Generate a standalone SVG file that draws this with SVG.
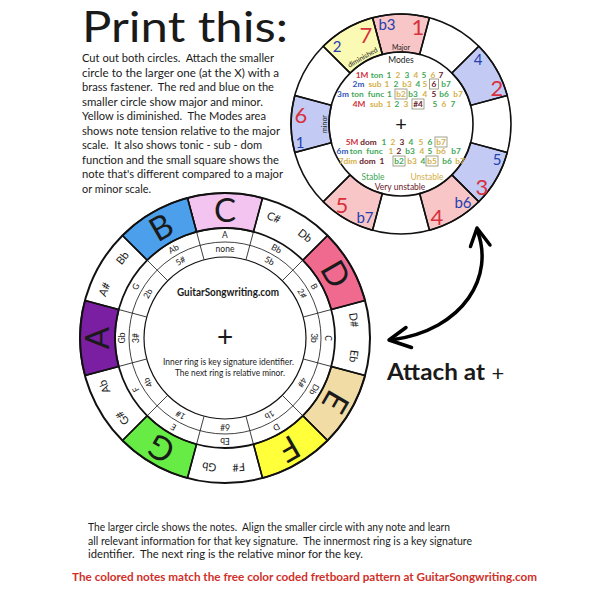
<svg xmlns="http://www.w3.org/2000/svg" width="600" height="600" viewBox="0 0 600 600">
<style>
text { font-family: Lato, "Open Sans", "Liberation Sans", sans-serif; fill: #1a1a1a; white-space: pre; }
.para { font-size: 11px; }
.seg { stroke: #111; stroke-width: 1.5; }
.ring { fill: none; stroke: #111; }
.sepo { stroke: #111; stroke-width: 1.5; }
.sepi { stroke: #222; stroke-width: 0.8; }
.big { font-size: 33px; text-anchor: middle; }
.sm { font-size: 11px; text-anchor: middle; }
.in { font-size: 8.5px; text-anchor: middle; }
.md { font-size: 8.3px; font-weight: bold; text-anchor: middle; }
.g { fill: #3fa85a; } .y { fill: #d4b04a; } .m { fill: #6a1b2b; } .r { fill: #d03040; } .b { fill: #2f55b5; }
.box { fill: none; stroke: #8c8c70; stroke-width: 0.8; }
.rn { font-size: 22px; fill: #d8303c; text-anchor: middle; }
.bn { font-size: 15px; fill: #2340b0; text-anchor: middle; }
.tiny { font-size: 7px; text-anchor: middle; }
</style>
<rect width="600" height="600" fill="#fff"/>

<g id="title">
<text x="82" y="42" font-size="42" textLength="206" lengthAdjust="spacingAndGlyphs">Print this:</text>
</g>

<g id="instructions" class="para">
<text x="82" y="62" textLength="192" lengthAdjust="spacingAndGlyphs">Cut out both circles.  Attach the smaller</text>
<text x="82" y="76.5" textLength="197" lengthAdjust="spacingAndGlyphs">circle to the larger one (at the X) with a</text>
<text x="82" y="91" textLength="192" lengthAdjust="spacingAndGlyphs">brass fastener.  The red and blue on the</text>
<text x="82" y="105.5" textLength="181" lengthAdjust="spacingAndGlyphs">smaller circle show major and minor.</text>
<text x="82" y="120" textLength="184" lengthAdjust="spacingAndGlyphs">Yellow is diminished.  The Modes area</text>
<text x="82" y="134.5" textLength="198" lengthAdjust="spacingAndGlyphs">shows note tension relative to the major</text>
<text x="82" y="149" textLength="180" lengthAdjust="spacingAndGlyphs">scale.  It also shows tonic - sub - dom</text>
<text x="82" y="163.5" textLength="197" lengthAdjust="spacingAndGlyphs">function and the small square shows the</text>
<text x="82" y="178" textLength="201" lengthAdjust="spacingAndGlyphs">note that's different compared to a major</text>
<text x="82" y="192.5" textLength="69" lengthAdjust="spacingAndGlyphs">or minor scale.</text>
</g>

<g id="mode-wheel">
<path class="seg" fill="#f8c6c6" d="M372.530,17.748 A110,110 0 0 1 429.470,17.748 L419.635,54.453 A72,72 0 0 0 382.365,54.453 Z"/>
<path class="seg" fill="#c3cbf4" d="M478.782,46.218 A110,110 0 0 1 507.252,95.530 L470.547,105.365 A72,72 0 0 0 451.912,73.088 Z"/>
<path class="seg" fill="#c3cbf4" d="M507.252,152.470 A110,110 0 0 1 478.782,201.782 L451.912,174.912 A72,72 0 0 0 470.547,142.635 Z"/>
<path class="seg" fill="#f8c6c6" d="M478.782,201.782 A110,110 0 0 1 429.470,230.252 L419.635,193.547 A72,72 0 0 0 451.912,174.912 Z"/>
<path class="seg" fill="#f8c6c6" d="M372.530,230.252 A110,110 0 0 1 323.218,201.782 L350.088,174.912 A72,72 0 0 0 382.365,193.547 Z"/>
<path class="seg" fill="#c3cbf4" d="M294.748,152.470 A110,110 0 0 1 294.748,95.530 L331.453,105.365 A72,72 0 0 0 331.453,142.635 Z"/>
<path class="seg" fill="#fafab4" d="M323.218,46.218 A110,110 0 0 1 372.530,17.748 L382.365,54.453 A72,72 0 0 0 350.088,73.088 Z"/>
<circle class="ring" cx="401" cy="124" r="110" stroke-width="1.6"/>
<circle class="ring" cx="401" cy="124" r="72" stroke-width="1.6"/>
<g class="sepo">
<line x1="401" y1="14" x2="401" y2="52" transform="rotate(15 401 124)"/>
<line x1="401" y1="14" x2="401" y2="52" transform="rotate(45 401 124)"/>
<line x1="401" y1="14" x2="401" y2="52" transform="rotate(75 401 124)"/>
<line x1="401" y1="14" x2="401" y2="52" transform="rotate(105 401 124)"/>
<line x1="401" y1="14" x2="401" y2="52" transform="rotate(135 401 124)"/>
<line x1="401" y1="14" x2="401" y2="52" transform="rotate(165 401 124)"/>
<line x1="401" y1="14" x2="401" y2="52" transform="rotate(195 401 124)"/>
<line x1="401" y1="14" x2="401" y2="52" transform="rotate(225 401 124)"/>
<line x1="401" y1="14" x2="401" y2="52" transform="rotate(255 401 124)"/>
<line x1="401" y1="14" x2="401" y2="52" transform="rotate(285 401 124)"/>
<line x1="401" y1="14" x2="401" y2="52" transform="rotate(315 401 124)"/>
<line x1="401" y1="14" x2="401" y2="52" transform="rotate(345 401 124)"/>
</g>
<text class="bn" x="387" y="30.4">b3</text>
<text class="rn" x="418" y="35">1</text>
<text class="bn" x="478" y="65.4">4</text>
<text class="rn" x="497" y="96">2</text>
<text class="bn" x="497" y="165.4">5</text>
<text class="rn" x="482" y="195">3</text>
<text class="bn" x="463" y="208.4">b6</text>
<text class="rn" x="437" y="225">4</text>
<text class="rn" x="342" y="213">5</text>
<text class="bn" x="365" y="223.4">b7</text>
<text class="rn" x="301" y="123">6</text>
<text class="bn" x="300" y="148.4">1</text>
<text class="bn" x="337" y="52.4">2</text>
<text class="rn" x="366" y="43">7</text>
<text class="tiny" x="401" y="49.5" fill="#d03040">Major</text>
<text class="tiny" x="401" y="49.5" fill="#2f55b5" transform="rotate(-90 401 124)">minor</text>
<text class="tiny" x="401" y="49.5" fill="#c4bd3a" transform="rotate(-30 401 124)">diminished</text>

<text x="401" y="63" font-size="8.5" text-anchor="middle" fill="#333">Modes</text>
<text class="md" y="78"><tspan x="362" class="r">1M</tspan><tspan x="377" class="g">ton</tspan><tspan x="389" class="g">1</tspan><tspan x="398" class="y">2</tspan><tspan x="407" class="g">3</tspan><tspan x="416" class="y">4</tspan><tspan x="424" class="g">5</tspan><tspan x="433" class="y">6</tspan><tspan x="441" class="m">7</tspan></text>
<text class="md" y="87"><tspan x="358.5" class="b">2m</tspan><tspan x="375" class="y">sub</tspan><tspan x="387" class="y">1</tspan><tspan x="396" class="g">2</tspan><tspan x="407" class="y">b3</tspan><tspan x="418" class="g">4</tspan><tspan x="425" class="y">5</tspan><tspan x="434" class="m">6</tspan><tspan x="446" class="g">b7</tspan></text>
<text class="md" y="97"><tspan x="343" class="b">3m</tspan><tspan x="357.5" class="g">ton</tspan><tspan x="376" class="g">func</tspan><tspan x="389.5" class="g">1</tspan><tspan x="401" class="y">b2</tspan><tspan x="413" class="g">b3</tspan><tspan x="425" class="y">4</tspan><tspan x="434" class="m">5</tspan><tspan x="444" class="g">b6</tspan><tspan x="458" class="y">b7</tspan></text>
<text class="md" y="107"><tspan x="359" class="r">4M</tspan><tspan x="376.5" class="y">sub</tspan><tspan x="389" class="y">1</tspan><tspan x="397" class="g">2</tspan><tspan x="406" class="y">3</tspan><tspan x="418" class="m">#4</tspan><tspan x="435" class="g">5</tspan><tspan x="444" class="y">6</tspan><tspan x="453" class="g">7</tspan></text>
<text x="401" y="131" font-size="20" text-anchor="middle">+</text>
<text class="md" y="145"><tspan x="352" class="r">5M</tspan><tspan x="368.5" class="m">dom</tspan><tspan x="384" class="g">1</tspan><tspan x="393" class="y">2</tspan><tspan x="402" class="m">3</tspan><tspan x="411" class="g">4</tspan><tspan x="421" class="y">5</tspan><tspan x="430" class="g">6</tspan><tspan x="441" class="y">b7</tspan></text>
<text class="md" y="154"><tspan x="342.5" class="b">6m</tspan><tspan x="356" class="g">ton</tspan><tspan x="374.5" class="g">func</tspan><tspan x="391" class="y">1</tspan><tspan x="399" class="m">2</tspan><tspan x="410" class="g">b3</tspan><tspan x="422" class="y">4</tspan><tspan x="430" class="g">5</tspan><tspan x="441" class="y">b6</tspan><tspan x="456" class="g">b7</tspan></text>
<text class="md" y="164"><tspan x="348" class="y">7dim</tspan><tspan x="367.5" class="m">dom</tspan><tspan x="382" class="m">1</tspan><tspan x="399" class="g">b2</tspan><tspan x="412" class="y">b3</tspan><tspan x="423" class="g">4</tspan><tspan x="432" class="y">b5</tspan><tspan x="447" class="g">b6</tspan><tspan x="460" class="y">b7</tspan></text>
<rect class="box" x="429.5" y="79" width="9" height="10"/>
<rect class="box" x="395" y="89" width="12" height="10"/>
<rect class="box" x="412" y="99" width="12" height="10"/>
<rect class="box" x="435" y="137" width="12" height="10"/>
<rect class="box" x="393" y="156" width="12" height="10"/>
<rect class="box" x="426" y="156" width="12" height="10"/>
<text x="373" y="180" font-size="8.5" text-anchor="middle" class="g">Stable</text>
<text x="427" y="180" font-size="8.5" text-anchor="middle" class="y">Unstable</text>
<text x="400" y="190" font-size="8.5" text-anchor="middle" class="m">Very unstable</text>
</g>

<g id="note-wheel">
<path class="seg" fill="#f2c4ef" d="M187.471,197.941 A145,145 0 0 1 262.529,197.941 L253.470,231.748 A110,110 0 0 0 196.530,231.748 Z"/>
<path class="seg" fill="#f06a90" d="M327.530,235.470 A145,145 0 0 1 365.059,300.471 L331.252,309.530 A110,110 0 0 0 302.782,260.218 Z"/>
<path class="seg" fill="#f1dca6" d="M365.059,375.529 A145,145 0 0 1 327.530,440.530 L302.782,415.782 A110,110 0 0 0 331.252,366.470 Z"/>
<path class="seg" fill="#ffff3a" d="M327.530,440.530 A145,145 0 0 1 262.529,478.059 L253.470,444.252 A110,110 0 0 0 302.782,415.782 Z"/>
<path class="seg" fill="#66ec44" d="M187.471,478.059 A145,145 0 0 1 122.470,440.530 L147.218,415.782 A110,110 0 0 0 196.530,444.252 Z"/>
<path class="seg" fill="#7a1fa2" d="M84.941,375.529 A145,145 0 0 1 84.941,300.471 L118.748,309.530 A110,110 0 0 0 118.748,366.470 Z"/>
<path class="seg" fill="#4c9fea" d="M122.470,235.470 A145,145 0 0 1 187.471,197.941 L196.530,231.748 A110,110 0 0 0 147.218,260.218 Z"/>
<circle class="ring" cx="225" cy="338" r="145" stroke-width="2"/>
<circle class="ring" cx="225" cy="338" r="110" stroke-width="1.8"/>
<circle class="ring" cx="225" cy="338" r="96" stroke-width="0.8"/>
<circle class="ring" cx="225" cy="338" r="81" stroke-width="1.2"/>
<g class="sepo">
<line x1="225" y1="193" x2="225" y2="228" transform="rotate(15 225 338)"/>
<line x1="225" y1="193" x2="225" y2="228" transform="rotate(45 225 338)"/>
<line x1="225" y1="193" x2="225" y2="228" transform="rotate(75 225 338)"/>
<line x1="225" y1="193" x2="225" y2="228" transform="rotate(105 225 338)"/>
<line x1="225" y1="193" x2="225" y2="228" transform="rotate(135 225 338)"/>
<line x1="225" y1="193" x2="225" y2="228" transform="rotate(165 225 338)"/>
<line x1="225" y1="193" x2="225" y2="228" transform="rotate(195 225 338)"/>
<line x1="225" y1="193" x2="225" y2="228" transform="rotate(225 225 338)"/>
<line x1="225" y1="193" x2="225" y2="228" transform="rotate(255 225 338)"/>
<line x1="225" y1="193" x2="225" y2="228" transform="rotate(285 225 338)"/>
<line x1="225" y1="193" x2="225" y2="228" transform="rotate(315 225 338)"/>
<line x1="225" y1="193" x2="225" y2="228" transform="rotate(345 225 338)"/>
</g>
<g class="sepi">
<line x1="225" y1="228" x2="225" y2="257" transform="rotate(15 225 338)"/>
<line x1="225" y1="228" x2="225" y2="257" transform="rotate(45 225 338)"/>
<line x1="225" y1="228" x2="225" y2="257" transform="rotate(75 225 338)"/>
<line x1="225" y1="228" x2="225" y2="257" transform="rotate(105 225 338)"/>
<line x1="225" y1="228" x2="225" y2="257" transform="rotate(135 225 338)"/>
<line x1="225" y1="228" x2="225" y2="257" transform="rotate(165 225 338)"/>
<line x1="225" y1="228" x2="225" y2="257" transform="rotate(195 225 338)"/>
<line x1="225" y1="228" x2="225" y2="257" transform="rotate(225 225 338)"/>
<line x1="225" y1="228" x2="225" y2="257" transform="rotate(255 225 338)"/>
<line x1="225" y1="228" x2="225" y2="257" transform="rotate(285 225 338)"/>
<line x1="225" y1="228" x2="225" y2="257" transform="rotate(315 225 338)"/>
<line x1="225" y1="228" x2="225" y2="257" transform="rotate(345 225 338)"/>
</g>
<text class="big" x="225" y="210" dy=".36em">C</text>
<text class="big" x="225" y="210" dy=".36em" transform="rotate(60 225 338)">D</text>
<text class="big" x="225" y="210" dy=".36em" transform="rotate(120 225 338)">E</text>
<text class="big" x="225" y="210" dy=".36em" transform="rotate(150 225 338)">F</text>
<text class="big" x="225" y="210" dy=".36em" transform="rotate(210 225 338)">G</text>
<text class="big" x="225" y="210" dy=".36em" transform="rotate(270 225 338)" fill="#fff">A</text>
<text class="big" x="225" y="210" dy=".36em" transform="rotate(330 225 338)" fill="#fff">B</text>
<text class="sm" x="225" y="208" dy=".35em" transform="rotate(22 225 338)">C#</text>
<text class="sm" x="225" y="208" dy=".35em" transform="rotate(38 225 338)">Db</text>
<text class="sm" x="225" y="208" dy=".35em" transform="rotate(82 225 338)">D#</text>
<text class="sm" x="225" y="208" dy=".35em" transform="rotate(98 225 338)">Eb</text>
<text class="sm" x="225" y="208" dy=".35em" transform="rotate(174 225 338)">F#</text>
<text class="sm" x="225" y="208" dy=".35em" transform="rotate(187 225 338)">Gb</text>
<text class="sm" x="225" y="208" dy=".35em" transform="rotate(232 225 338)">G#</text>
<text class="sm" x="225" y="208" dy=".35em" transform="rotate(248 225 338)">Ab</text>
<text class="sm" x="225" y="208" dy=".35em" transform="rotate(292 225 338)">A#</text>
<text class="sm" x="225" y="208" dy=".35em" transform="rotate(308 225 338)">Bb</text>
<g class="in">
<text x="225" y="235" dy=".35em">A</text>
<text x="225" y="249" dy=".35em">none</text>
<text x="225" y="235" dy=".35em" transform="rotate(30 225 338)">Bb</text>
<text x="225" y="249" dy=".35em" transform="rotate(30 225 338)">5b</text>
<text x="225" y="235" dy=".35em" transform="rotate(60 225 338)">B</text>
<text x="225" y="249" dy=".35em" transform="rotate(60 225 338)">2#</text>
<text x="225" y="235" dy=".35em" transform="rotate(90 225 338)">C</text>
<text x="225" y="249" dy=".35em" transform="rotate(90 225 338)">3b</text>
<text x="225" y="235" dy=".35em" transform="rotate(120 225 338)">Db</text>
<text x="225" y="249" dy=".35em" transform="rotate(120 225 338)">4#</text>
<text x="225" y="235" dy=".35em" transform="rotate(150 225 338)">D</text>
<text x="225" y="249" dy=".35em" transform="rotate(150 225 338)">1b</text>
<text x="225" y="235" dy=".35em" transform="rotate(180 225 338)">Eb</text>
<text x="225" y="249" dy=".35em" transform="rotate(180 225 338)">6#</text>
<text x="225" y="235" dy=".35em" transform="rotate(210 225 338)">E</text>
<text x="225" y="249" dy=".35em" transform="rotate(210 225 338)">1#</text>
<text x="225" y="235" dy=".35em" transform="rotate(240 225 338)">F</text>
<text x="225" y="249" dy=".35em" transform="rotate(240 225 338)">4b</text>
<text x="225" y="235" dy=".35em" transform="rotate(270 225 338)">Gb</text>
<text x="225" y="249" dy=".35em" transform="rotate(270 225 338)">3#</text>
<text x="225" y="235" dy=".35em" transform="rotate(300 225 338)">G</text>
<text x="225" y="249" dy=".35em" transform="rotate(300 225 338)">2b</text>
<text x="225" y="235" dy=".35em" transform="rotate(330 225 338)">Ab</text>
<text x="225" y="249" dy=".35em" transform="rotate(330 225 338)">5#</text>
</g>
<text x="228" y="296" font-size="10.5" font-weight="bold" text-anchor="middle" textLength="102" lengthAdjust="spacingAndGlyphs">GuitarSongwriting.com</text>
<text x="225" y="347" font-size="28" text-anchor="middle">+</text>
<text x="228.5" y="365" font-size="8.5" text-anchor="middle" textLength="131" lengthAdjust="spacingAndGlyphs">Inner ring is key signature identifier.</text>
<text x="230" y="376" font-size="8.5" text-anchor="middle" textLength="110" lengthAdjust="spacingAndGlyphs">The next ring is relative minor.</text>
</g>

<g id="connectors" fill="none" stroke="#000" stroke-width="3.5" stroke-linecap="round" stroke-linejoin="round">
<path d="M477,230 C495,275 465,330 391,340"/>
<polyline points="470.5,246.5 477,228 490,245"/>
<polyline points="406,327.5 389,340 411.5,347.5"/>
</g>

<g id="attach-label">
<text x="387" y="380" font-size="22" font-weight="bold" textLength="98" lengthAdjust="spacingAndGlyphs">Attach at</text>
<text x="498" y="381" font-size="22" text-anchor="middle">+</text>
</g>

<g id="footer" class="para">
<text x="88" y="531" textLength="362" lengthAdjust="spacingAndGlyphs">The larger circle shows the notes.  Align the smaller circle with any note and learn</text>
<text x="88" y="545" textLength="384" lengthAdjust="spacingAndGlyphs">all relevant information for that key signature.  The innermost ring is a key signature</text>
<text x="88" y="558" textLength="275" lengthAdjust="spacingAndGlyphs">identifier.  The next ring is the relative minor for the key.</text>
<text x="72" y="581" font-weight="bold" style="fill:#d0302a" textLength="465" lengthAdjust="spacingAndGlyphs">The colored notes match the free color coded fretboard pattern at GuitarSongwriting.com</text>
</g>
</svg>
